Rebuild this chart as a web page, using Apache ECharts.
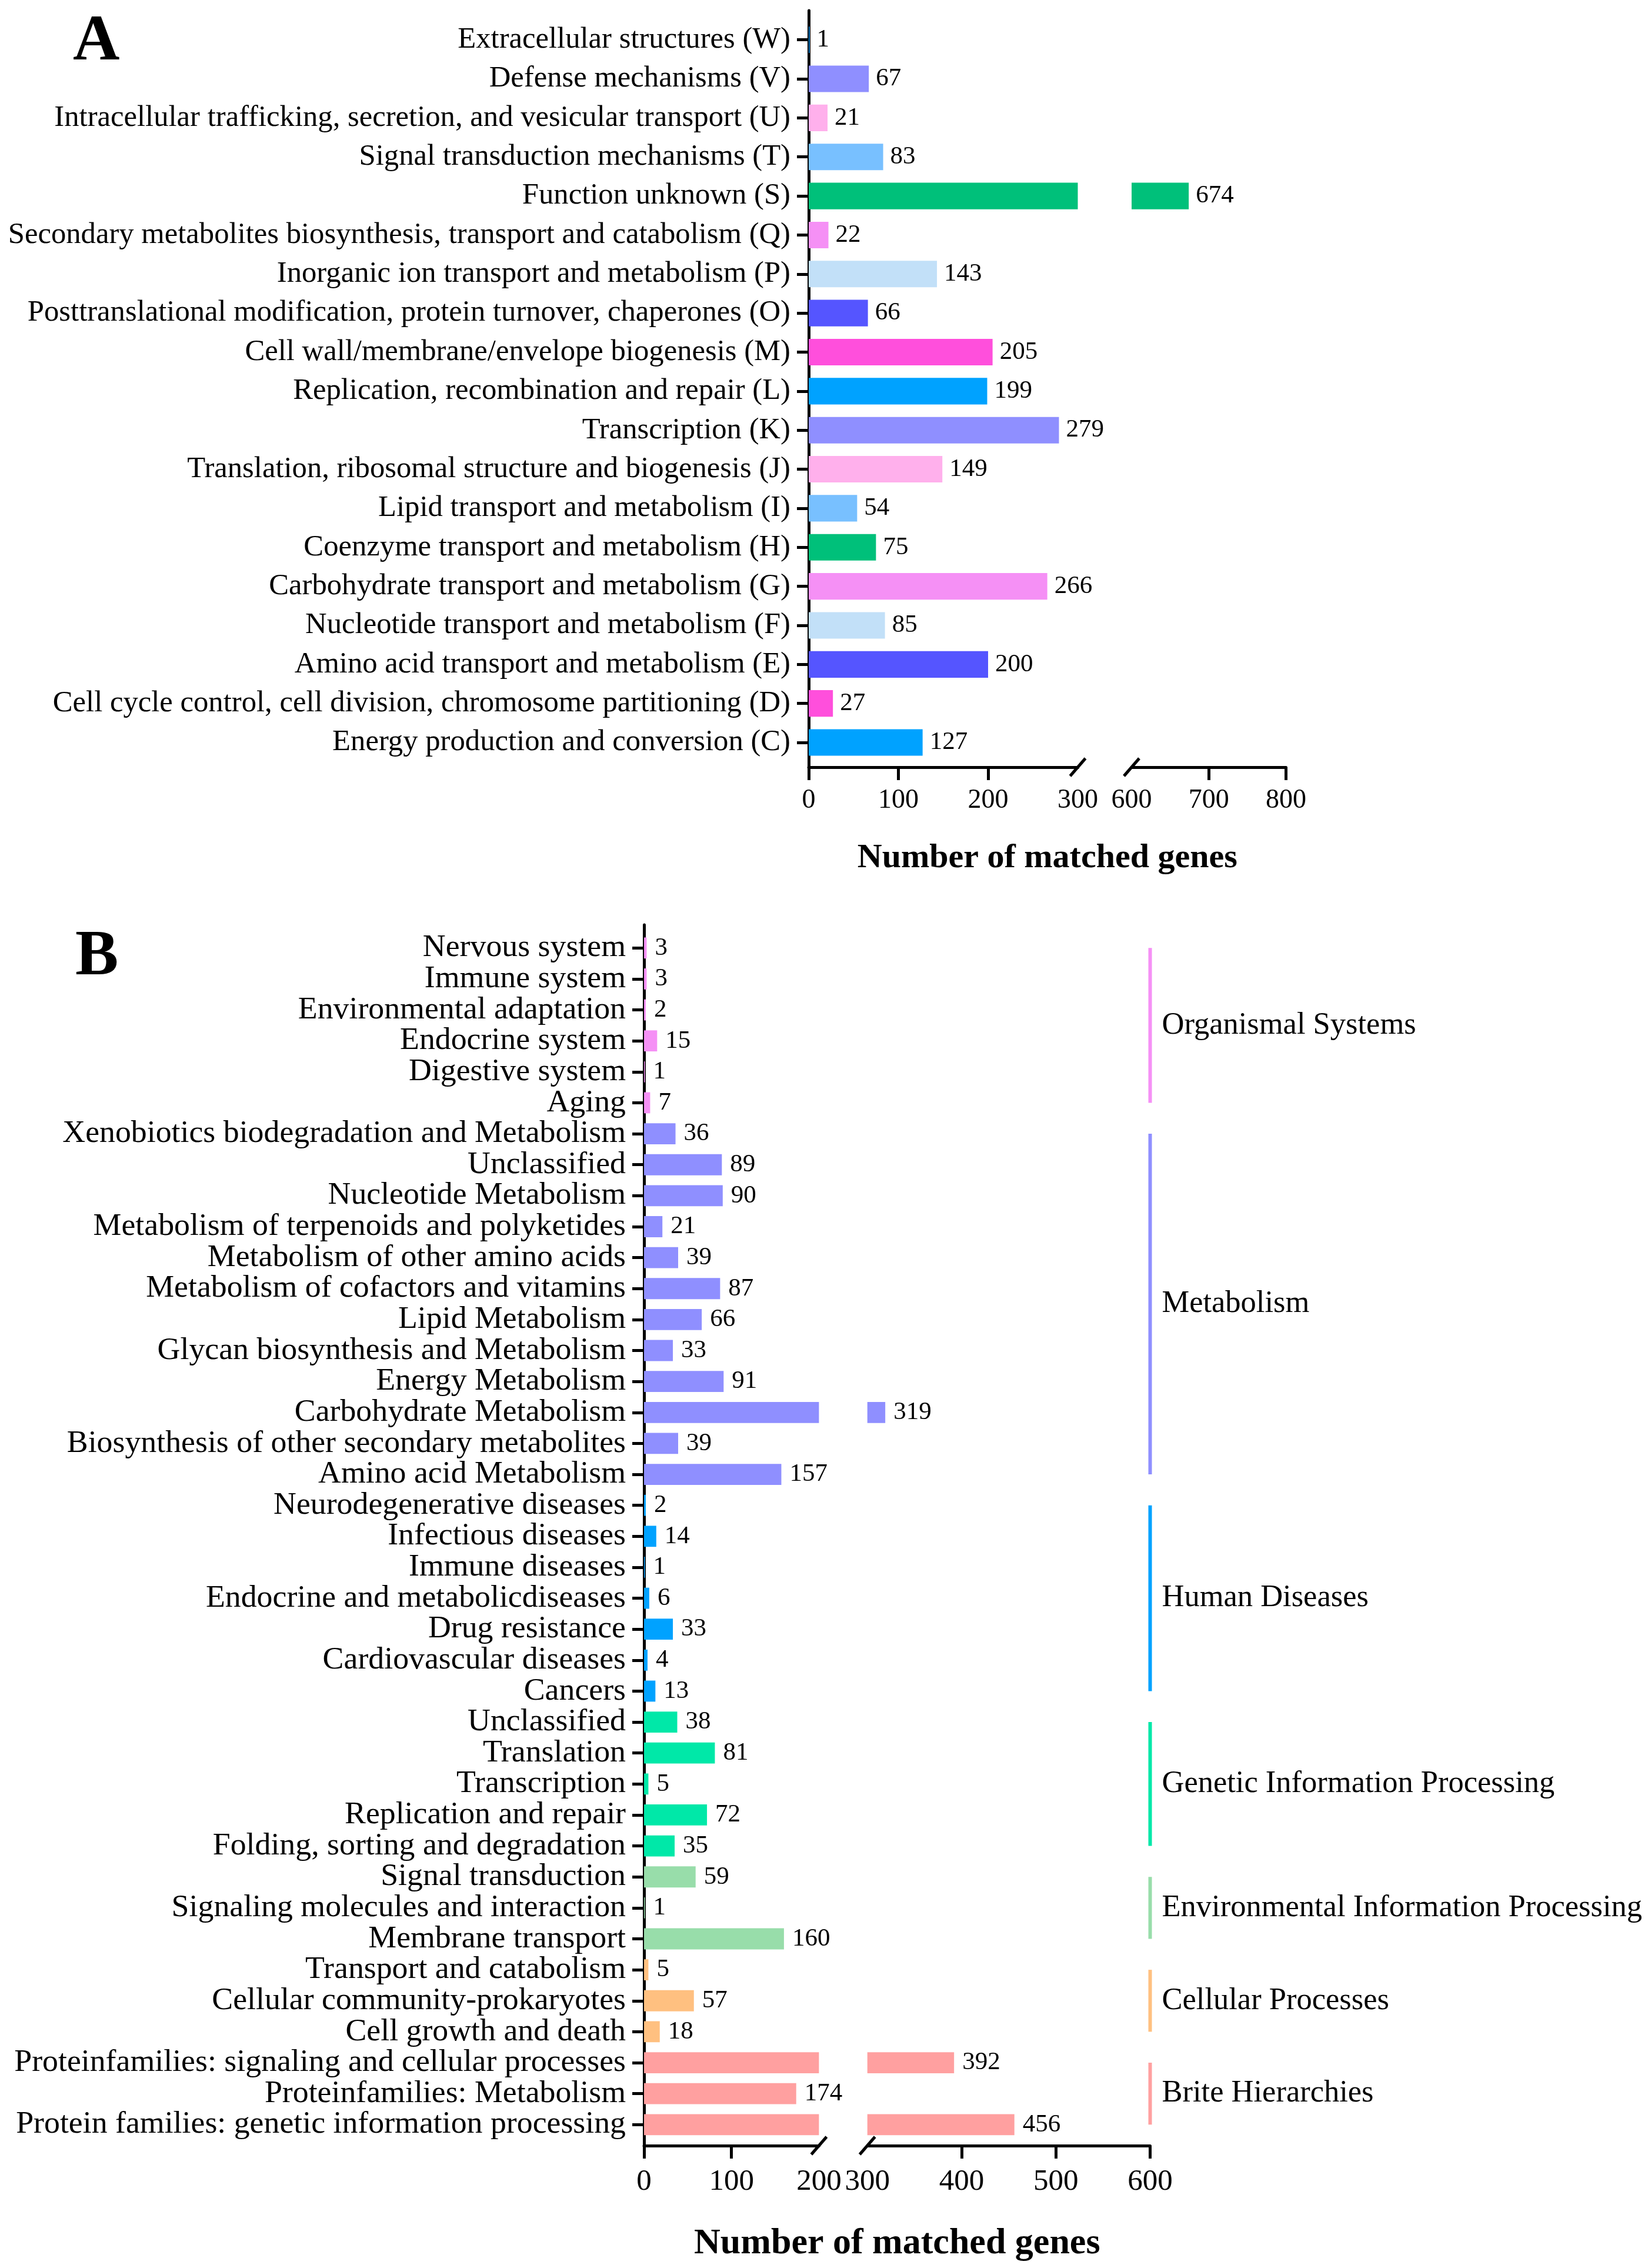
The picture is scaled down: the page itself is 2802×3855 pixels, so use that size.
<!DOCTYPE html>
<html>
<head>
<meta charset="utf-8">
<script src="https://cdn.jsdelivr.net/npm/echarts@6/dist/echarts.min.js"></script>
<style>
html,body{margin:0;padding:0;background:#fff;}
#c{width:2802px;height:3855px;}
</style>
</head>
<body>
<div id="c"></div>
<script>
// ---------- DATA ----------
const catsA = [
  'Extracellular structures (W)',
  'Defense mechanisms (V)',
  'Intracellular trafficking, secretion, and vesicular transport (U)',
  'Signal transduction mechanisms (T)',
  'Function unknown (S)',
  'Secondary metabolites biosynthesis, transport and catabolism (Q)',
  'Inorganic ion transport and metabolism (P)',
  'Posttranslational modification, protein turnover, chaperones (O)',
  'Cell wall/membrane/envelope biogenesis (M)',
  'Replication, recombination and repair (L)',
  'Transcription (K)',
  'Translation, ribosomal structure and biogenesis (J)',
  'Lipid transport and metabolism (I)',
  'Coenzyme transport and metabolism (H)',
  'Carbohydrate transport and metabolism (G)',
  'Nucleotide transport and metabolism (F)',
  'Amino acid transport and metabolism (E)',
  'Cell cycle control, cell division, chromosome partitioning (D)',
  'Energy production and conversion (C)'
];
const valsA = [1, 67, 21, 83, 674, 22, 143, 66, 205, 199, 279, 149, 54, 75, 266, 85, 200, 27, 127];
const colorsA = ['#00A2FF','#8F8FFF','#FFB0EC','#78C0FF','#00C07A','#F590F5','#C2E0F8','#5555FF','#FF4FDC',
                 '#00A2FF','#8F8FFF','#FFB0EC','#78C0FF','#00C07A','#F590F5','#C2E0F8','#5555FF','#FF4FDC','#00A2FF'];
const breakA = [300, 600];
const ticksA_left = [0, 100, 200];
const labelsA_left = [0, 100, 200, 300];
const ticksA_right = [700, 800];
const labelsA_right = [600, 700, 800];
const maxA = 800;

const catsB = [
  'Nervous system','Immune system','Environmental adaptation','Endocrine system','Digestive system','Aging',
  'Xenobiotics biodegradation and Metabolism','Unclassified','Nucleotide Metabolism','Metabolism of terpenoids and polyketides',
  'Metabolism of other amino acids','Metabolism of cofactors and vitamins','Lipid Metabolism','Glycan biosynthesis and Metabolism',
  'Energy Metabolism','Carbohydrate Metabolism','Biosynthesis of other secondary metabolites','Amino acid Metabolism',
  'Neurodegenerative diseases','Infectious diseases','Immune diseases','Endocrine and metabolicdiseases','Drug resistance',
  'Cardiovascular diseases','Cancers',
  'Unclassified','Translation','Transcription','Replication and repair','Folding, sorting and degradation',
  'Signal transduction','Signaling molecules and interaction','Membrane transport',
  'Transport and catabolism','Cellular community-prokaryotes','Cell growth and death',
  'Proteinfamilies: signaling and cellular processes','Proteinfamilies: Metabolism','Protein families: genetic information processing'
];
const valsB = [3,3,2,15,1,7, 36,89,90,21,39,87,66,33,91,319,39,157, 2,14,1,6,33,4,13, 38,81,5,72,35, 59,1,160, 5,57,18, 392,174,456];
const groupNames = ['Organismal Systems','Metabolism','Human Diseases','Genetic Information Processing',
                    'Environmental Information Processing','Cellular Processes','Brite Hierarchies'];
const groupSizes = [6, 12, 7, 5, 3, 3, 3];
const groupColors = ['#F590F5','#8F8FFF','#00A2FF','#00E8A8','#98DDAA','#FFC080','#FFA0A0'];
const breakB = [200, 300];
const ticksB_left = [0, 100];
const labelsB_left = [0, 100, 200];
const ticksB_right = [400, 500, 600];
const labelsB_right = [300, 400, 500, 600];
const maxB = 600;

// ---------- LAYOUT ----------
const FONT = "'Liberation Serif', 'Times New Roman', serif";
const LA = {x0: 1375, segL: 457.5, x1: 1924, segR: 262.5, bandTop: 34.5, bandH: 1260.7, lineTop: 18, axisY: 1304};
const LB = {x0: 1095, segL: 297.4, x1: 1474.7, segR: 480.8, bandTop: 1585, bandH: 2052.6, lineTop: 1572, axisY: 3647};

const chart = echarts.init(document.getElementById('c'), null, {renderer: 'canvas', devicePixelRatio: 1});

function dummyGrid(L) {
  return {left: L.x0, top: L.lineTop, width: (L.x1 + L.segR) - L.x0, height: L.axisY - L.lineTop};
}
function segGrid(L, left) {
  return {left: left ? L.x0 : L.x1, top: L.bandTop, width: left ? L.segL : L.segR, height: L.bandH};
}
const noAxis = {axisLine: {show: false}, axisTick: {show: false}, axisLabel: {show: false}, splitLine: {show: false}};

function dummyX(gi, name, fs, gap) {
  return Object.assign({gridIndex: gi, type: 'value', min: 0, max: 1, name: name, nameLocation: 'middle', nameGap: gap,
    nameTextStyle: {fontFamily: FONT, fontSize: fs, fontWeight: 'bold', color: '#000'}}, noAxis);
}
function dummyY(gi) {
  return {gridIndex: gi, type: 'value', min: 0, max: 1, axisLine: {show: true, lineStyle: {color: '#000', width: 5}},
    axisTick: {show: false}, axisLabel: {show: false}, splitLine: {show: false}};
}
function segX(gi, min, max, ticks, labels, offset, fs, margin) {
  return {gridIndex: gi, type: 'value', min: min, max: max, offset: offset,
    axisLine: {show: true, lineStyle: {color: '#000', width: 5}},
    axisTick: {show: true, length: 22, lineStyle: {color: '#000', width: 5}, customValues: ticks},
    axisLabel: {show: true, customValues: labels, fontFamily: FONT, fontSize: fs, color: '#000', margin: margin},
    splitLine: {show: false}};
}
function catY(gi, cats, show, fs) {
  return {gridIndex: gi, type: 'category', data: cats, inverse: true, show: show,
    axisLine: {show: false},
    axisTick: {show: show, interval: 0, alignWithLabel: true, length: 20, lineStyle: {color: '#000', width: 5}},
    axisLabel: {show: show, interval: 0, fontFamily: FONT, fontSize: fs, color: '#000', margin: 31},
    splitLine: {show: false}};
}

const colorsB = [];
groupSizes.forEach((n, g) => { for (let i = 0; i < n; i++) colorsB.push(groupColors[g]); });

function leftData(vals, colors, brk) {
  return vals.map((v, i) => ({value: v, itemStyle: {color: colors[i]}, label: {show: v <= brk}}));
}
function rightData(vals, colors, brk) {
  return vals.map((v, i) => v >= brk ? {value: v, itemStyle: {color: colors[i]}} : '-');
}
const lblStyle = {show: true, position: 'right', distance: 12, fontFamily: FONT, fontSize: 43, color: '#000'};

const groupData = [];
let acc = 0;
groupSizes.forEach((n, g) => { groupData.push([maxB, acc, acc + n - 1]); acc += n; });

function slash(x, y) {
  return {type: 'line', shape: {x1: x - 13, y1: y + 15, x2: x + 13, y2: y - 15},
          style: {stroke: '#000', lineWidth: 5}, z: 100};
}

const option = {
  backgroundColor: '#fff',
  animation: false,
  grid: [dummyGrid(LA), segGrid(LA, true), segGrid(LA, false), dummyGrid(LB), segGrid(LB, true), segGrid(LB, false)],
  xAxis: [
    dummyX(0, 'Number of matched genes', 58, 126),
    segX(1, 0, breakA[0], ticksA_left, labelsA_left, LA.axisY - (LA.bandTop + LA.bandH), 46, 34),
    segX(2, breakA[1], maxA, ticksA_right, labelsA_right, LA.axisY - (LA.bandTop + LA.bandH), 46, 34),
    dummyX(3, 'Number of matched genes', 62, 136),
    segX(4, 0, breakB[0], ticksB_left, labelsB_left, LB.axisY - (LB.bandTop + LB.bandH), 51, 36),
    segX(5, breakB[1], maxB, ticksB_right, labelsB_right, LB.axisY - (LB.bandTop + LB.bandH), 51, 36)
  ],
  yAxis: [
    dummyY(0), catY(1, catsA, true, 50.7), catY(2, catsA, false, 50.7),
    dummyY(3), catY(4, catsB, true, 53.8), catY(5, catsB, false, 53.8)
  ],
  series: [
    {type: 'bar', xAxisIndex: 1, yAxisIndex: 1, barWidth: '68%', clip: true,
     data: leftData(valsA, colorsA, breakA[0]), label: lblStyle},
    {type: 'bar', xAxisIndex: 2, yAxisIndex: 2, barWidth: '68%', clip: true,
     data: rightData(valsA, colorsA, breakA[1]), label: lblStyle},
    {type: 'bar', xAxisIndex: 4, yAxisIndex: 4, barWidth: '68%', clip: true,
     data: leftData(valsB, colorsB, breakB[0]), label: Object.assign({}, lblStyle, {distance: 14})},
    {type: 'bar', xAxisIndex: 5, yAxisIndex: 5, barWidth: '68%', clip: true,
     data: rightData(valsB, colorsB, breakB[1]), label: Object.assign({}, lblStyle, {distance: 14})},
    {type: 'custom', xAxisIndex: 5, yAxisIndex: 5, clip: false, data: groupData,
     encode: {x: 0, y: [1, 2]},
     renderItem: function (params, api) {
       const p1 = api.coord([api.value(0), api.value(1)]);
       const p2 = api.coord([api.value(0), api.value(2)]);
       const g = params.dataIndex;
       return {type: 'group', children: [
         {type: 'line', shape: {x1: p1[0], y1: p1[1], x2: p2[0], y2: p2[1]},
          style: {stroke: groupColors[g], lineWidth: 6}},
         {type: 'text', x: p1[0] + 20, y: (p1[1] + p2[1]) / 2,
          style: {text: groupNames[g], fontFamily: FONT, fontSize: 52.5, fill: '#000', verticalAlign: 'middle', align: 'left'}}
       ]};
     }}
  ],
  graphic: [
    {type: 'text', x: 124, y: 73, style: {text: 'A', font: 'bold 110px ' + FONT, fill: '#000', verticalAlign: 'middle'}},
    {type: 'text', x: 128, y: 1628, style: {text: 'B', font: 'bold 110px ' + FONT, fill: '#000', verticalAlign: 'middle'}},
    slash(LA.x0 + LA.segL, LA.axisY), slash(LA.x1, LA.axisY),
    slash(LB.x0 + LB.segL, LB.axisY), slash(LB.x1, LB.axisY)
  ]
};
chart.setOption(option);
</script>
</body>
</html>
